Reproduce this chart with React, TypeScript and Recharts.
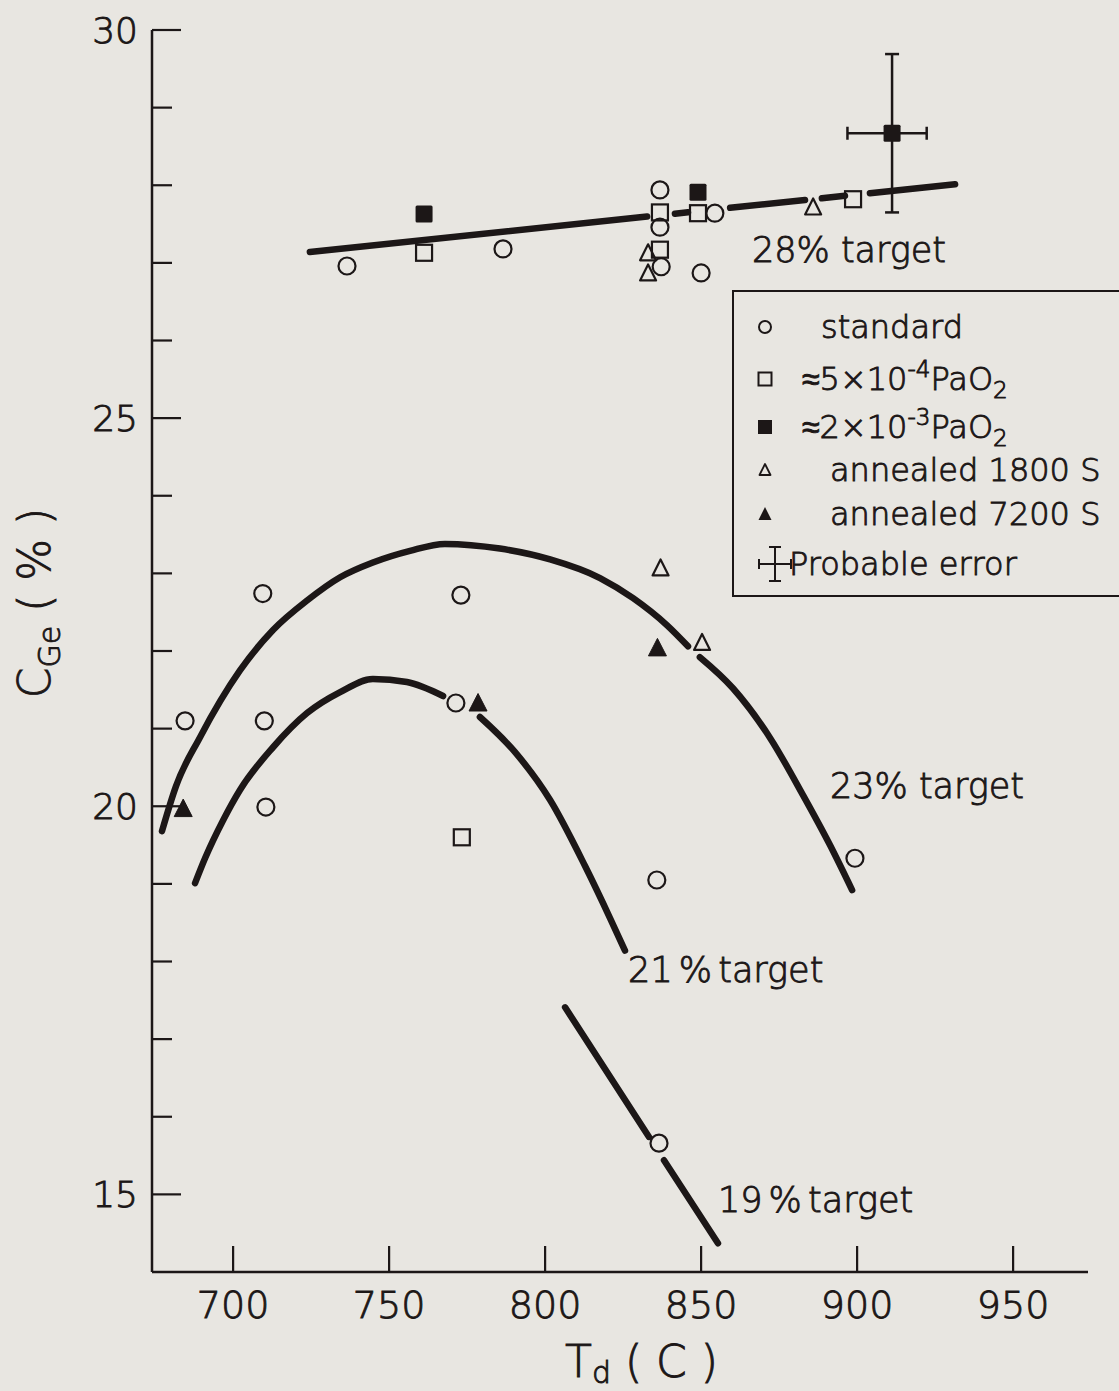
import React from 'react';
import { ComposedChart, XAxis, YAxis, Scatter, Line, ErrorBar, ReferenceDot, Legend } from 'recharts';

const W = 1119;
const H = 1391;
const BG = '#e8e6e1';
const INK = '#1c1717';
const FONT = "'DejaVu Sans', 'Liberation Sans', sans-serif";
const FW = 300;
const TS = 0.9; // text stroke to thicken the light face

const xTicks = [700, 750, 800, 850, 900, 950];
const yTicks = [15, 16, 17, 18, 19, 20, 21, 22, 23, 24, 25, 26, 27, 28, 29, 30];
const yLabeledTicks = [15, 20, 25, 30];

// standard (open circles)
const standardPts = [
  { x: 736.5, y: 26.96 }, { x: 786.5, y: 27.18 }, { x: 836.8, y: 27.94 }, { x: 836.8, y: 27.46 },
  { x: 837.2, y: 26.95 }, { x: 850.0, y: 26.87 }, { x: 854.4, y: 27.64 },
  { x: 684.6, y: 21.1 }, { x: 709.5, y: 22.74 }, { x: 710.0, y: 21.1 }, { x: 710.5, y: 19.99 },
  { x: 773.0, y: 22.72 }, { x: 771.4, y: 21.33 }, { x: 835.8, y: 19.05 }, { x: 899.3, y: 19.33 },
  { x: 836.5, y: 15.66 },
];
// ≈5×10^-4 Pa O2 (open squares)
const lowO2Pts = [
  { x: 761.2, y: 27.13 }, { x: 836.8, y: 27.65 }, { x: 836.8, y: 27.17 }, { x: 849.0, y: 27.64 },
  { x: 898.7, y: 27.82 }, { x: 773.3, y: 19.6 },
];
// ≈2×10^-3 Pa O2 (filled squares)
const highO2Pts = [{ x: 761.2, y: 27.63 }, { x: 849.0, y: 27.91 }];
// filled square with probable error
const errorPts = [{ x: 911.2, y: 28.67, ex: [14.3, 11.1], ey: 1.02 }];
// annealed 1800 s (open triangles)
const ann1800Pts = [
  { x: 833.0, y: 27.13 }, { x: 833.0, y: 26.87 }, { x: 885.9, y: 27.72 }, { x: 837.0, y: 23.07 },
  { x: 850.3, y: 22.11 },
];
// annealed 7200 s (filled triangles)
const ann7200Pts = [{ x: 836.0, y: 22.04 }, { x: 778.5, y: 21.33 }, { x: 684.0, y: 19.97 }];

// hand-drawn target curves (null = gap in the drawn line)
const line28 = [
  { x: 724.6, y: 27.14 }, { x: 832.7, y: 27.597 }, { x: 837, y: null },
  { x: 841.6, y: 27.634 }, { x: 845.8, y: 27.652 }, { x: 850, y: null },
  { x: 859.3, y: 27.709 }, { x: 883.3, y: 27.81 }, { x: 886, y: null },
  { x: 888.7, y: 27.832 }, { x: 896.1, y: 27.864 }, { x: 899, y: null },
  { x: 904.1, y: 27.897 }, { x: 931.4, y: 28.012 },
];
const curve23 = [
  { x: 677.2, y: 19.68 }, { x: 681.7, y: 20.26 }, { x: 689.4, y: 20.89 }, { x: 702.2, y: 21.75 },
  { x: 712.8, y: 22.27 }, { x: 723.7, y: 22.65 }, { x: 734.3, y: 22.95 }, { x: 744.8, y: 23.14 },
  { x: 756.7, y: 23.29 }, { x: 767.9, y: 23.38 }, { x: 785.5, y: 23.32 }, { x: 801.6, y: 23.18 },
  { x: 817.6, y: 22.94 }, { x: 828.2, y: 22.68 }, { x: 839.1, y: 22.33 }, { x: 845.8, y: 22.06 },
  { x: 848, y: null },
  { x: 849.6, y: 21.92 }, { x: 860.2, y: 21.52 }, { x: 872.1, y: 20.88 }, { x: 882.7, y: 20.14 },
  { x: 891.3, y: 19.5 }, { x: 898.4, y: 18.92 },
];
const curve21 = [
  { x: 687.8, y: 19.01 }, { x: 691.0, y: 19.33 }, { x: 696.8, y: 19.82 }, { x: 702.2, y: 20.21 },
  { x: 712.8, y: 20.76 }, { x: 723.7, y: 21.2 }, { x: 734.3, y: 21.47 }, { x: 744.8, y: 21.64 },
  { x: 755.7, y: 21.6 }, { x: 767.3, y: 21.42 }, { x: 773, y: null },
  { x: 779.1, y: 21.15 }, { x: 790.3, y: 20.7 }, { x: 801.6, y: 20.08 }, { x: 812.8, y: 19.23 },
  { x: 820.8, y: 18.56 }, { x: 825.6, y: 18.14 },
];
const line19 = [
  { x: 806.4, y: 17.41 }, { x: 833.3, y: 15.74 }, { x: 836, y: null },
  { x: 838.1, y: 15.44 }, { x: 855.4, y: 14.37 },
];

const targetLabels = [
  { x: 866.3, y: 27.01, text: '28% target' },
  { x: 891.3, y: 20.1, text: '23% target' },
  { x: 826.6, y: 17.73, text: '21 % target' },
  { x: 855.4, y: 14.77, text: '19 % target' },
];

const SW = 2.2;

const OpenCircle = (p: any) => (
  <circle cx={p.cx} cy={p.cy} r={8.5} fill="none" stroke={INK} strokeWidth={SW} />
);
const OpenSquare = (p: any) => (
  <rect x={p.cx - 8} y={p.cy - 8} width={16} height={16} fill="none" stroke={INK} strokeWidth={SW} />
);
const FilledSquare = (p: any) => (
  <rect x={p.cx - 8.5} y={p.cy - 8.5} width={17} height={17} rx={1.5} fill={INK} />
);
const OpenTriangle = (p: any) => (
  <polygon
    points={`${p.cx},${p.cy - 8.5} ${p.cx + 8},${p.cy + 7.5} ${p.cx - 8},${p.cy + 7.5}`}
    fill="none" stroke={INK} strokeWidth={SW} strokeLinejoin="round"
  />
);
const FilledTriangle = (p: any) => (
  <polygon
    points={`${p.cx},${p.cy - 9.5} ${p.cx + 9},${p.cy + 8} ${p.cx - 9},${p.cy + 8}`}
    fill={INK} stroke={INK} strokeWidth={1} strokeLinejoin="round"
  />
);

const textProps = {
  fontFamily: FONT,
  fontWeight: FW,
  fill: INK,
  stroke: INK,
  strokeWidth: TS,
};

const YTick = (p: any) => {
  const v = p.payload.value;
  const major = yLabeledTicks.includes(v);
  return (
    <g>
      <line x1={p.x} x2={p.x + (major ? 29 : 20)} y1={p.y} y2={p.y} stroke={INK} strokeWidth={2.2} />
      {major && (
        <text x={p.x - 14} y={p.y + 13} textAnchor="end" fontSize={36} {...textProps}>
          {v}
        </text>
      )}
    </g>
  );
};

const XTick = (p: any) => (
  <g>
    <line x1={p.x} x2={p.x} y1={p.y} y2={p.y - 26} stroke={INK} strokeWidth={2.2} />
    <text x={p.x} y={p.y + 46} textAnchor="middle" fontSize={38} {...textProps}>
      {p.payload.value}
    </text>
  </g>
);

const iconSvg = (children: React.ReactNode) => (
  <svg width={40} height={44} viewBox="-20 -22 40 44" style={{ display: 'block' }}>
    {children}
  </svg>
);

const supStyle: React.CSSProperties = { fontSize: '0.72em', position: 'relative', top: '-0.55em' };
const subStyle: React.CSSProperties = { fontSize: '0.72em', position: 'relative', top: '0.35em' };

const legendItems = [
  { key: 'std', cy: 35, tx: 87, icon: <circle cx={0} cy={0} r={6} fill="none" stroke={INK} strokeWidth={2} />, label: <span>standard</span> },
  { key: 'lo', cy: 87, tx: 68, icon: <rect x={-6.5} y={-6.5} width={13} height={13} fill="none" stroke={INK} strokeWidth={2} />, label: (
    <span>≈5×10<span style={supStyle}>-4</span>PaO<span style={subStyle}>2</span></span>
  ) },
  { key: 'hi', cy: 135, tx: 68, icon: <rect x={-7} y={-7} width={14} height={14} fill={INK} />, label: (
    <span>≈2×10<span style={supStyle}>-3</span>PaO<span style={subStyle}>2</span></span>
  ) },
  { key: 'a18', cy: 178, tx: 96, icon: <polygon points="0,-6 5.5,5 -5.5,5" fill="none" stroke={INK} strokeWidth={1.8} strokeLinejoin="round" />, label: <span>annealed 1800 S</span> },
  { key: 'a72', cy: 222, tx: 96, icon: <polygon points="0,-7 6.5,6 -6.5,6" fill={INK} />, label: <span>annealed 7200 S</span> },
  { key: 'err', cy: 272, tx: 55, icon: (
    <g stroke={INK} strokeWidth={2}>
      <line x1={0} x2={0} y1={-17} y2={17} />
      <line x1={-6} x2={6} y1={-17} y2={-17} />
      <line x1={-6} x2={6} y1={17} y2={17} />
      <line x1={-16} x2={16} y1={0} y2={0} />
      <line x1={-16} x2={-16} y1={-5} y2={5} />
      <line x1={16} x2={16} y1={-5} y2={5} />
    </g>
  ), label: <span>Probable error</span> },
];

const LegendBox = () => (
  <div
    style={{
      position: 'relative', width: 420, height: 307, boxSizing: 'border-box',
      border: `2.5px solid ${INK}`, fontFamily: FONT, fontWeight: FW, fontSize: 32, color: INK,
      WebkitTextStroke: `${TS}px ${INK}`,
    }}
  >
    {legendItems.map((it) => (
      <React.Fragment key={it.key}>
        <div style={{ position: 'absolute', left: (it.key === 'err' ? 41 : 31) - 20, top: it.cy - 22 }}>{iconSvg(it.icon)}</div>
        <div style={{ position: 'absolute', left: it.tx, top: it.cy - 20, height: 40, lineHeight: '40px', whiteSpace: 'nowrap' }}>
          {it.label}
        </div>
      </React.Fragment>
    ))}
  </div>
);

const YLabel = () => (
  <text transform="translate(50,603) rotate(-90)" textAnchor="middle" fontSize={44} {...textProps}>
    C<tspan fontSize={30} dy={10}>Ge</tspan>
    <tspan dy={-10}> ( % )</tspan>
  </text>
);

const XLabel = () => (
  <text x={565} y={1377} fontSize={44} {...textProps}>
    T<tspan fontSize={30} dy={6}>d</tspan>
    <tspan dy={-6}> ( C )</tspan>
  </text>
);

const lineProps = {
  dataKey: 'y',
  type: 'monotone' as const,
  stroke: INK,
  strokeWidth: 6.5,
  dot: false,
  activeDot: false,
  isAnimationActive: false,
  connectNulls: false,
  strokeLinecap: 'round' as const,
  legendType: 'none' as const,
};

export default function App() {
  return (
    <div style={{ width: W, height: H, overflow: 'hidden', background: BG, position: 'relative' }}>
      <style>{`html, body { margin: 0; padding: 0; background: ${BG}; overflow: hidden; }`}</style>
      <ComposedChart width={W} height={H} margin={{ top: 30, right: 31, bottom: 59, left: 92 }}>
        <XAxis
          type="number" dataKey="x" domain={[674, 974]} allowDataOverflow ticks={xTicks}
          tickSize={0} tickMargin={0} tickLine={false} tick={XTick} height={60}
          axisLine={{ stroke: INK, strokeWidth: 2.5 }} label={<XLabel />}
        />
        <YAxis
          type="number" dataKey="y" domain={[14, 30]} allowDataOverflow ticks={yTicks} interval={0}
          tickSize={0} tickMargin={0} tickLine={false} tick={YTick} width={60}
          axisLine={{ stroke: INK, strokeWidth: 2.5 }} label={<YLabel />}
        />
        <Legend
          layout="horizontal" verticalAlign="middle" align="center"
          wrapperStyle={{ left: 732, top: 290, width: 420, height: 307 }}
          content={<LegendBox />}
        />
        <Line data={line28} {...lineProps} type="linear" name="28% target" />
        <Line data={curve23} {...lineProps} name="23% target" />
        <Line data={curve21} {...lineProps} name="21% target" />
        <Line data={line19} {...lineProps} type="linear" name="19% target" />
        <Scatter data={standardPts} shape={OpenCircle} isAnimationActive={false} name="standard" />
        <Scatter data={lowO2Pts} shape={OpenSquare} isAnimationActive={false} name="≈5×10-4 Pa O2" />
        <Scatter data={highO2Pts} shape={FilledSquare} isAnimationActive={false} name="≈2×10-3 Pa O2" />
        <Scatter data={ann1800Pts} shape={OpenTriangle} isAnimationActive={false} name="annealed 1800 S" />
        <Scatter data={ann7200Pts} shape={FilledTriangle} isAnimationActive={false} name="annealed 7200 S" />
        <Scatter data={errorPts} shape={FilledSquare} isAnimationActive={false} name="Probable error">
          <ErrorBar dataKey="ey" direction="y" width={7} stroke={INK} strokeWidth={2.5} isAnimationActive={false} />
          <ErrorBar dataKey="ex" direction="x" width={6.5} stroke={INK} strokeWidth={2.5} isAnimationActive={false} />
        </Scatter>
        {targetLabels.map((t) => (
          <ReferenceDot
            key={t.text} x={t.x} y={t.y} r={0} ifOverflow="visible"
            shape={(p: any) => (
              <text x={p.cx} y={p.cy} fontSize={35} wordSpacing={t.text.includes(' % ') ? -5 : 0} {...textProps}>{t.text}</text>
            )}
          />
        ))}
      </ComposedChart>
    </div>
  );
}
